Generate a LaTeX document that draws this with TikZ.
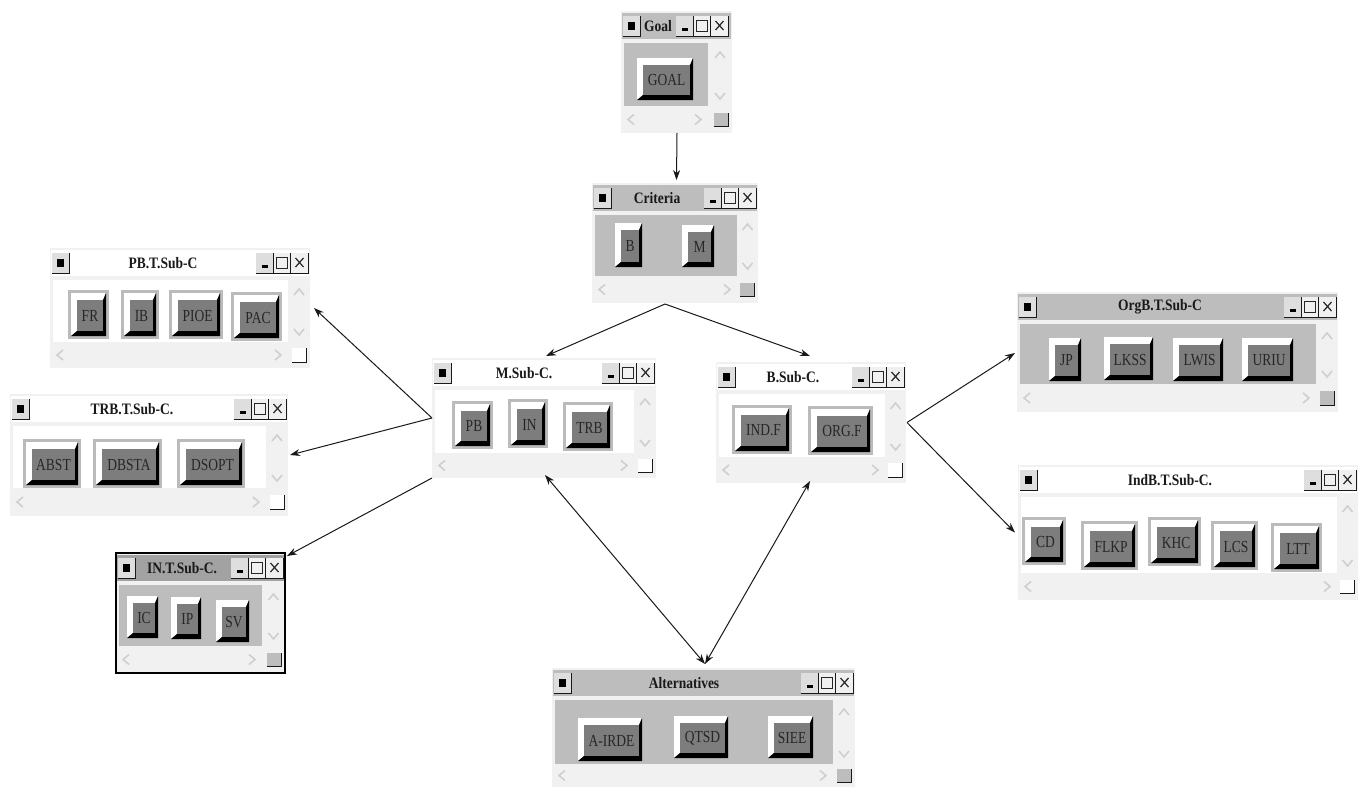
\documentclass[tikz,border=0pt]{standalone}
\usepackage{fontspec}
\usepackage{graphicx}
\setmainfont{Liberation Serif}
\usetikzlibrary{arrows.meta}
\definecolor{winframe}{HTML}{F1F1F1}
\definecolor{bargrey}{HTML}{BDBDBD}
\definecolor{bardark}{HTML}{A2A2A2}
\definecolor{halo}{HTML}{BBBBBB}
\definecolor{face}{HTML}{7D7D7D}
\definecolor{chev}{HTML}{CFCFCF}
\definecolor{tbface}{HTML}{DEDEDE}
\definecolor{tbfacb}{HTML}{F0F0F0}
\tikzset{
  winbox/.style={draw=none,fill=winframe,inner sep=0pt,outer sep=0pt,anchor=north west},
  wintitle/.style={font=\fontsize{13.5}{15}\selectfont\bfseries,text=black!90,inner sep=0pt},
  btntext/.style={font=\fontsize{13.5}{15}\selectfont,text=black!85,inner sep=0pt},
  chevron/.style={draw=chev,line width=1.6pt,line join=miter},
  conn/.style={draw=black!90,line width=1pt,-{Stealth[length=10pt,width=7pt]}},
  connboth/.style={draw=black!90,line width=1pt,{Stealth[length=10pt,width=7pt]}-{Stealth[length=10pt,width=7pt]}},
  tbbtn/.style={fill=tbface},
  tbbtb/.style={fill=tbfacb},
  tbedge/.style={draw=black!90,line width=0.9pt},
  tbglyph/.style={draw=black!85,line width=1pt}
}
\def\barc{white}\def\clientc{white}\def\cornerc{white}\def\rgap{2}
\newcommand{\modewhite}{\def\barc{white}\def\clientc{white}\def\cornerc{white}}
\newcommand{\modegrey}{\def\barc{bargrey}\def\clientc{bargrey}\def\cornerc{bargrey}}
\newcommand{\modedark}{\def\barc{bardark}\def\clientc{bargrey}\def\cornerc{bargrey}}
% #1 name #2 x0 #3 y0 #4 x1 #5 y1 #6 title #7 client right #8 client bottom #9 title centre x
\newcommand{\win}[9]{%
  \pgfmathsetmacro\ww{#4-#2}\pgfmathsetmacro\wh{#5-#3}%
  \node[winbox,minimum width=\ww pt,minimum height=\wh pt] (#1) at (#2,#3) {};
  \fill[\barc] (#2+1,#3+2) rectangle (#4-1,#3+28);
  \fill[\clientc] (#2+3,#3+32) rectangle (#7,#8);
  % left title button
  \fill[tbbtn] (#2+2,#3+5) rectangle (#2+19,#3+25);
  \draw[tbedge] (#2+2,#3+25) -- (#2+19,#3+25) -- (#2+19,#3+5);
  \fill[black] (#2+7,#3+11) rectangle (#2+14,#3+19);
  % right title buttons
  \pgfmathsetmacro\rr{#4-\rgap}\pgfmathsetmacro\rb{\rr-17.5}\pgfmathsetmacro\ra{\rb-17.5}\pgfmathsetmacro\rz{\ra-17.5}%
  \fill[tbbtn] (\rz,#3+5) rectangle (\ra,#3+25);
  \fill[tbbtb] (\ra,#3+5) rectangle (\rr,#3+25);
  \draw[tbedge] (\rz,#3+25) -- (\rr,#3+25) -- (\rr,#3+5);
  \draw[tbedge] (\ra,#3+25) -- (\ra,#3+5);
  \draw[tbedge] (\rb,#3+25) -- (\rb,#3+5);
  \fill[black] (\rz+6,#3+17) rectangle (\rz+12,#3+20);
  \draw[tbglyph] (\ra+3.5,#3+9) rectangle (\ra+14,#3+20);
  \draw[tbglyph,line width=1.2pt] (\rb+5,#3+10) -- (\rb+13,#3+19) (\rb+13,#3+10) -- (\rb+5,#3+19);
  \node[wintitle] (#1-title) at (#9,#3+15) {\scalebox{1}[1.18]{#6}};
  % scroll marks
  \pgfmathsetmacro\sx{(#7+#4)/2}\pgfmathsetmacro\sy{(#8+#5)/2}%
  \draw[chevron] (\sx-5,#3+47) -- (\sx,#3+41) -- (\sx+5,#3+47);
  \draw[chevron] (\sx-5,#8-13) -- (\sx,#8-7) -- (\sx+5,#8-13);
  \draw[chevron] (#2+13,\sy-5) -- (#2+7,\sy) -- (#2+13,\sy+5);
  \draw[chevron] (#7-13,\sy-5) -- (#7-7,\sy) -- (#7-13,\sy+5);
  \fill[\cornerc] (#4-18,\sy-7) rectangle (#4-4,\sy+7);
  \draw[tbedge] (#4-18,\sy+7) -- (#4-4,\sy+7) -- (#4-4,\sy-7);
}
% raised button: #1 name #2 x0 #3 y0 #4 x1 #5 y1 #6 text
\newcommand{\btn}[6]{%
  \fill[white] (#2,#5) -- (#2,#3) -- (#4,#3) -- (#4-3,#3+7) -- (#2+6,#5-5) -- cycle;
  \fill[black] (#2,#5) -- (#4,#5) -- (#4,#3) -- (#4-3,#3+7) -- (#4-3,#5-5) -- (#2+6,#5-5) -- cycle;
  \fill[face] (#2+6,#3+7) rectangle (#4-3,#5-5);
  \node[btntext] (#1) at ({(#2+#4+3)/2},{(#3+#5+2)/2}) {\scalebox{1}[1.25]{#6}};
}
% raised button inside a grey halo
\newcommand{\hbtn}[6]{%
  \fill[halo] (#2,#3) rectangle (#4,#5);
  \pgfmathsetmacro\hxa{#2+3}\pgfmathsetmacro\hya{#3+3}\pgfmathsetmacro\hxb{#4-3}\pgfmathsetmacro\hyb{#5-3}%
  \btn{#1}{\hxa}{\hya}{\hxb}{\hyb}{#6}
}
\begin{document}
\begin{tikzpicture}[x=1pt,y=-1pt]
\useasboundingbox (0,0) rectangle (1366,787);
\fill[white] (0,0) rectangle (1366,787);
% Goal
\modegrey\def\rgap{4}
\win{goal}{621}{11}{732}{133}{Goal}{708}{106}{658}
\btn{bgoal}{637}{58}{693}{100}{GOAL}
\def\rgap{2}
% Criteria
\win{crit}{592}{183}{758}{303}{Criteria}{737}{276}{657}
\btn{bb}{615}{223}{642}{267}{B}
\btn{bm}{682}{225}{714}{267}{M}
% PB
\modewhite
\win{pb}{50}{248}{310}{368}{PB.T.Sub-C}{288}{342}{163}
\hbtn{fr}{68}{290}{109}{339}{FR}
\hbtn{ib}{121}{290}{159}{339}{IB}
\hbtn{pioe}{169}{290}{223}{339}{PIOE}
\hbtn{pac}{231}{292}{282}{341}{PAC}
% TRB
\win{trb}{10}{394}{288}{516}{TRB.T.Sub-C.}{266}{488}{132}
\hbtn{abst}{23}{439}{81}{488}{ABST}
\hbtn{dbsta}{93}{439}{162}{488}{DBSTA}
\hbtn{dsopt}{177}{439}{245}{488}{DSOPT}
% IN (framed window)
\modedark
\win{in}{116}{553}{285}{673}{IN.T.Sub-C.}{262}{646}{182}
\draw[black,line width=2pt] (in.north west) rectangle (in.south east);
\btn{ic}{127}{596}{158}{638}{IC}
\btn{ip}{171}{597}{201}{639}{IP}
\btn{sv}{216}{600}{249}{642}{SV}
% M
\modewhite
\win{m}{432}{358}{656}{478}{M.Sub-C.}{634}{453}{524}
\hbtn{pbb}{452}{401}{493}{449}{PB}
\hbtn{inb}{508}{399}{548}{448}{IN}
\hbtn{trbb}{563}{402}{613}{451}{TRB}
% B
\win{b}{716}{362}{906}{483}{B.Sub-C.}{885}{457}{793}
\hbtn{indf}{732}{405}{792}{454}{IND.F}
\hbtn{orgf}{808}{406}{873}{455}{ORG.F}
% OrgB
\modegrey
\win{org}{1017}{292}{1338}{412}{OrgB.T.Sub-C}{1316}{384}{1160}
\btn{jp}{1049}{338}{1081}{381}{JP}
\btn{lkss}{1104}{337}{1153}{380}{LKSS}
\btn{lwis}{1173}{338}{1223}{381}{LWIS}
\btn{uriu}{1242}{338}{1293}{381}{URIU}
% IndB
\modewhite
\win{ind}{1018}{465}{1358}{600}{IndB.T.Sub-C.}{1337}{573}{1170}
\hbtn{cd}{1022}{517}{1066}{565}{CD}
\hbtn{flkp}{1081}{521}{1138}{570}{FLKP}
\hbtn{khc}{1148}{517}{1201}{566}{KHC}
\hbtn{lcs}{1211}{521}{1258}{570}{LCS}
\hbtn{ltt}{1271}{523}{1322}{572}{LTT}
% Alternatives
\modegrey
\win{alt}{552}{668}{855}{787}{Alternatives}{833}{764}{684}
\btn{airde}{578}{718}{642}{761}{A-IRDE}
\btn{qtsd}{674}{716}{728}{758}{QTSD}
\btn{siee}{768}{716}{813}{758}{SIEE}
% Connectors
\draw[conn] ([xshift=0.5pt]goal.south) -- ([xshift=1.5pt,yshift=3pt]crit.north);
\draw[conn] ([xshift=-10pt,yshift=-1pt]crit.south) -- ([xshift=2pt,yshift=2pt]m.north);
\draw[conn] ([xshift=-10pt,yshift=-1pt]crit.south) -- ([xshift=-1pt,yshift=6pt]b.north);
\draw[conn] (m.west) -- ([xshift=4pt]pb.east);
\draw[conn] (m.west) -- ([xshift=2pt]trb.east);
\draw[conn] (m.south west) -- ([xshift=2pt,yshift=-3pt]in.north east);
\draw[conn] ([xshift=1pt]b.east) -- ([xshift=-2pt,yshift=-1pt]org.west);
\draw[conn] ([xshift=1pt]b.east) -- ([xshift=-3pt]ind.west);
\draw[connboth] ([xshift=1.5pt,yshift=4pt]alt.north) -- ([xshift=1pt,yshift=3pt]m.south);
\draw[connboth] ([xshift=1.5pt,yshift=4pt]alt.north) -- ([xshift=-1pt,yshift=2pt]b.south);
\end{tikzpicture}
\end{document}
